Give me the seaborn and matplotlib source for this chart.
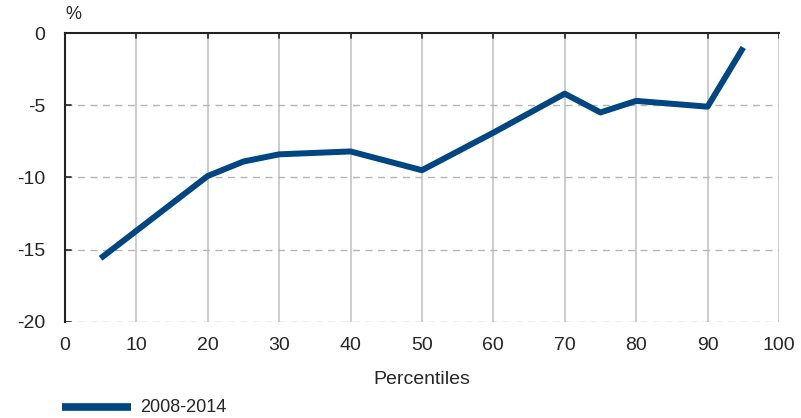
import matplotlib
matplotlib.use("Agg")
import matplotlib.pyplot as plt
import seaborn as sns
import pandas as pd

# percentile vs change in %
percentiles = [5, 10, 15, 20, 25, 30, 40, 50, 60, 70, 75, 80, 90, 95]
change = [-15.6, -13.7, -11.8, -9.9, -8.9, -8.4, -8.2, -9.5, -6.9, -4.2, -5.5, -4.7, -5.1, -1.0]
series_name = "2008-2014"
xticks = [0, 10, 20, 30, 40, 50, 60, 70, 80, 90, 100]
yticks = [0, -5, -10, -15, -20]

df = pd.DataFrame({"Percentiles": percentiles, "value": change, "series": series_name})

sns.set_style("white")
plt.rcParams['font.family'] = ['Liberation Sans', 'DejaVu Sans']
plt.rcParams['axes.unicode_minus'] = False

fig = plt.figure(figsize=(8.01, 4.18), dpi=100)
ax = fig.add_axes([0.081, 0.23, 0.8915, 0.691])

navy = "#004683"
sns.lineplot(data=df, x="Percentiles", y="value", hue="series", palette=[navy],
             linewidth=4.3, ax=ax, legend=False, solid_capstyle="butt")

ax.set_xlim(0, 100)
ax.set_ylim(-20, 0)
ax.set_xticks(xticks)
ax.set_yticks(yticks)
ax.tick_params(axis="x", labelsize=14, length=0, pad=11)
ax.tick_params(axis="y", labelsize=14, length=0, pad=14)

# grid: solid vertical, dashed horizontal
for x in xticks[1:]:
    ax.axvline(x, color="#c8c8c8", lw=1.3, zorder=0)
    ax.plot([x, x], [0, -0.35], color="#333333", lw=1.3, zorder=1)
for y in yticks[1:]:
    ax.axhline(y, color="#b5b5b5", lw=1.0, ls=(0, (5, 4)), zorder=0)
    ax.plot([0, 0.8], [y, y], color="#333333", lw=1.3, zorder=1)

for side in ["right", "bottom"]:
    ax.spines[side].set_visible(False)
ax.spines["left"].set_color("#222222")
ax.spines["left"].set_linewidth(1.5)
ax.spines["top"].set_color("#222222")
ax.spines["top"].set_linewidth(1.5)

ax.set_xlabel("Percentiles", fontsize=14, labelpad=12)
ax.set_ylabel("")
ax.text(0.0, 1.035, "%", transform=ax.transAxes, fontsize=13, ha="left", va="bottom")

# legend below plot
fig.lines.append(plt.Line2D([0.078, 0.163], [0.026, 0.026], color=navy, lw=5.5,
                            solid_capstyle="butt", transform=fig.transFigure))
fig.text(0.175, 0.026, series_name, fontsize=13, va="center", ha="left")

fig.savefig("out.png", dpi=100)
